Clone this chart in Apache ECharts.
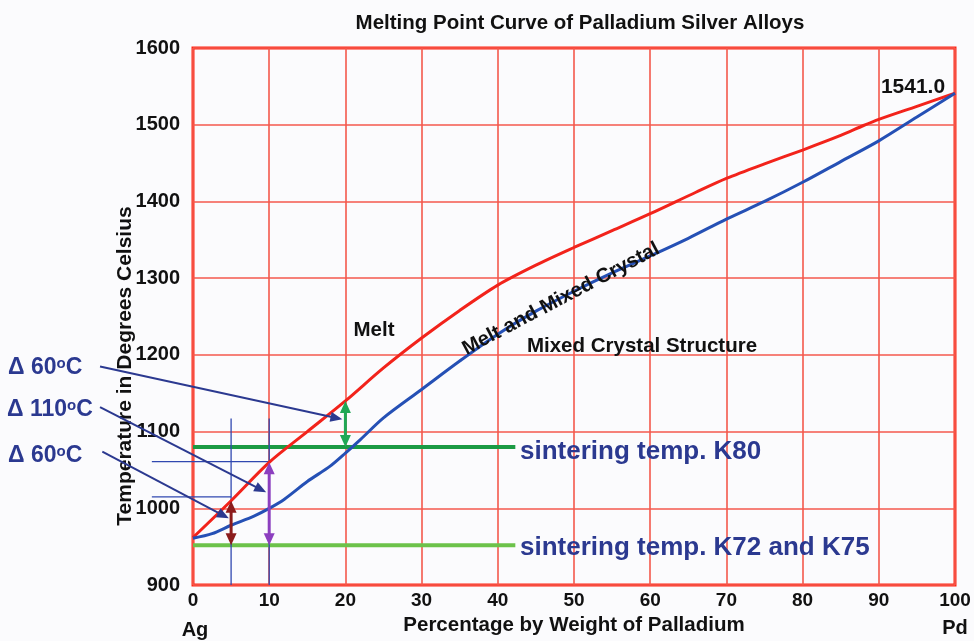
<!DOCTYPE html>
<html>
<head>
<meta charset="utf-8">
<script src="https://cdn.jsdelivr.net/npm/echarts@6/dist/echarts.min.js"></script>
<style>
html, body { margin: 0; padding: 0; background: #fbfbfd; }
#chart { width: 974px; height: 641px; }
</style>
</head>
<body>
<div id="chart"></div>
<script>
// tick labels
var xTicks = [0, 10, 20, 30, 40, 50, 60, 70, 80, 90, 100];
var yTicks = [900, 1000, 1100, 1200, 1300, 1400, 1500, 1600];

// liquidus (red) - % Pd vs temperature
var liqX = [0, 5, 10, 15, 20, 25, 30, 35, 40, 45, 50, 55, 60, 66, 70, 75, 80, 85, 88, 90, 95, 100];
var liqY = [962, 1010, 1060, 1100, 1140, 1183, 1222, 1258, 1291, 1317, 1340, 1362, 1384, 1412, 1430, 1449, 1467, 1486, 1499, 1507, 1524, 1541];

// solidus (blue)
var solX = [0, 2.5, 5, 8, 10, 12, 15, 18, 20, 22, 25, 30, 35, 40, 45, 50, 55, 60, 65, 70, 75, 80, 85, 90, 95, 100];
var solY = [961, 967, 978, 990, 1000, 1012, 1035, 1055, 1072, 1090, 1118, 1155, 1192, 1227, 1257, 1283, 1307, 1329, 1352, 1377, 1400, 1425, 1452, 1479, 1510, 1541];

// sintering temperatures and where their lines stop
var sinterK80 = 1080;
var sinterK72 = 952;
var sinterEnd = 42.3;

// thin guide lines [x1, y1, x2, y2]
var guideLines = [[5, 900, 5, 1117], [10, 900, 10, 1117], [-5.4, 1061, 10, 1061], [-5.4, 1015, 5, 1015]];
// delta double arrows [x1, y1, x2, y2]
var deltaArrows = [[5, 952, 5, 1010], [10, 952, 10, 1060], [20, 1080, 20, 1140]];
// pointer arrows from the delta labels
var pointerLines = [[-12.2, 1185, 19.6, 1116], [-12.2, 1132, 9.6, 1021], [-11.9, 1074, 4.7, 987]];

var deltaColors = ['#8b1c1c', '#8c3fbf', '#1fa855'];
var navy = '#2b3990';

function pairs(xs, ys) {
    var out = [];
    for (var i = 0; i < xs.length; i++) {
        out.push([xs[i], ys[i]]);
    }
    return out;
}

function head(tip, from, len, wid, color) {
    var dx = tip[0] - from[0], dy = tip[1] - from[1];
    var d = Math.sqrt(dx * dx + dy * dy);
    var ux = dx / d, uy = dy / d;
    var bx = tip[0] - ux * len, by = tip[1] - uy * len;
    return {
        type: 'polygon',
        shape: {points: [tip, [bx - uy * wid / 2, by + ux * wid / 2], [bx + uy * wid / 2, by - ux * wid / 2]]},
        style: {fill: color}
    };
}

// heads: 0 none, 1 end only, 2 both ends
function arrowRenderer(colors, width, heads, len, wid) {
    return function (params, api) {
        var color = colors[params.dataIndex % colors.length];
        var p1 = api.coord([api.value(0), api.value(1)]);
        var p2 = api.coord([api.value(2), api.value(3)]);
        var dx = p2[0] - p1[0], dy = p2[1] - p1[1];
        var d = Math.sqrt(dx * dx + dy * dy);
        var a = p1.slice(), b = p2.slice();
        if (heads >= 1) { b = [p2[0] - dx / d * len * 0.8, p2[1] - dy / d * len * 0.8]; }
        if (heads === 2) { a = [p1[0] + dx / d * len * 0.8, p1[1] + dy / d * len * 0.8]; }
        var children = [{
            type: 'line',
            shape: {x1: a[0], y1: a[1], x2: b[0], y2: b[1]},
            style: {stroke: color, lineWidth: width}
        }];
        if (heads >= 1) children.push(head(p2, p1, len, wid, color));
        if (heads === 2) children.push(head(p1, p2, len, wid, color));
        return {type: 'group', children: children};
    };
}

function deltaText(num) {
    return '{a|\u0394 ' + num + '}{s|o}{a|C}';
}
var deltaRich = {
    a: {fontSize: 23, fontWeight: 'bold', fill: navy, color: navy, fontFamily: 'Liberation Sans'},
    s: {fontSize: 15, fontWeight: 'bold', fill: navy, color: navy, fontFamily: 'Liberation Sans', verticalAlign: 'top', padding: [0, 0, 9, 0]}
};

var chart = echarts.init(document.getElementById('chart'));
var font = 'Liberation Sans';

var option = {
    backgroundColor: '#fbfbfd',
    animation: false,
    textStyle: {fontFamily: font},
    title: {
        text: 'Melting Point Curve of Palladium Silver Alloys',
        left: 575,
        top: 8,
        textAlign: 'center',
        textStyle: {fontSize: 20.5, fontWeight: 'bold', color: '#111', fontFamily: font}
    },
    grid: {
        left: 193, right: 19, top: 48, bottom: 51,
        show: true,
        borderColor: '#ff2414',
        borderWidth: 3
    },
    xAxis: {
        type: 'value',
        min: xTicks[0],
        max: xTicks[xTicks.length - 1],
        interval: 10,
        name: 'Percentage by Weight of Palladium',
        nameLocation: 'middle',
        nameGap: 29,
        nameTextStyle: {fontSize: 20.5, fontWeight: 'bold', color: '#111', fontFamily: font},
        axisLine: {show: false},
        axisTick: {show: false},
        axisLabel: {margin: 6, fontSize: 19, fontWeight: 'bold', color: '#111', fontFamily: font},
        splitLine: {lineStyle: {color: '#f4594c', width: 1.6}}
    },
    yAxis: {
        type: 'value',
        min: yTicks[0],
        max: yTicks[yTicks.length - 1],
        interval: 100,
        axisLine: {show: false},
        axisTick: {show: false},
        axisLabel: {
            margin: 13, fontSize: 20, fontWeight: 'bold', color: '#111', fontFamily: font,
            formatter: function (v) { return String(v); }
        },
        splitLine: {lineStyle: {color: '#f4594c', width: 1.6}}
    },
    series: [
        {
            name: 'K80', type: 'line', data: [[0, sinterK80], [sinterEnd, sinterK80]],
            symbol: 'none', lineStyle: {color: '#1b9a44', width: 4}, z: 3
        },
        {
            name: 'K72/K75', type: 'line', data: [[0, sinterK72], [sinterEnd, sinterK72]],
            symbol: 'none', lineStyle: {color: '#6cc24a', width: 4}, z: 3
        },
        {
            name: 'guides', type: 'custom', data: guideLines, clip: false, z: 4,
            renderItem: arrowRenderer(['#3048b0'], 1.3, 0, 0, 0)
        },
        {
            name: 'Liquidus', type: 'line', data: pairs(liqX, liqY), smooth: 0.3,
            symbol: 'none', lineStyle: {color: '#f2231b', width: 3}, z: 5
        },
        {
            name: 'Solidus', type: 'line', data: pairs(solX, solY), smooth: 0.3,
            symbol: 'none', lineStyle: {color: '#2550b5', width: 3}, z: 5
        },
        {
            name: 'deltas', type: 'custom', data: deltaArrows, clip: false, z: 6,
            renderItem: arrowRenderer(deltaColors, 3, 2, 12, 11)
        },
        {
            name: 'pointers', type: 'custom', data: pointerLines, clip: false, z: 6,
            renderItem: arrowRenderer([navy], 2, 1, 12, 10)
        }
    ],
    graphic: [
        {type: 'text', x: 125, y: 366, rotation: Math.PI / 2, style: {
            text: 'Temperature in Degrees Celsius', fontSize: 21, fontWeight: 'bold', fill: '#111',
            fontFamily: font, align: 'center', verticalAlign: 'middle'}},
        {type: 'text', x: 195, y: 630, style: {text: 'Ag', fontSize: 20, fontWeight: 'bold', fill: '#111',
            fontFamily: font, align: 'center', verticalAlign: 'middle'}},
        {type: 'text', x: 955, y: 628, style: {text: 'Pd', fontSize: 20, fontWeight: 'bold', fill: '#111',
            fontFamily: font, align: 'center', verticalAlign: 'middle'}},
        {type: 'text', x: 913, y: 87, z: 10, style: {text: '1541.0', fontSize: 21, fontWeight: 'bold', fill: '#111',
            fontFamily: font, align: 'center', verticalAlign: 'middle'}},
        {type: 'text', x: 374, y: 330, z: 10, style: {text: 'Melt', fontSize: 20.5, fontWeight: 'bold', fill: '#111',
            fontFamily: font, align: 'center', verticalAlign: 'middle'}},
        {type: 'text', x: 642, y: 346, z: 10, style: {text: 'Mixed Crystal Structure', fontSize: 20.5, fontWeight: 'bold', fill: '#111',
            fontFamily: font, align: 'center', verticalAlign: 'middle'}},
        {type: 'text', x: 561, y: 299, rotation: 0.485, z: 10, style: {text: 'Melt and Mixed Crystal', fontSize: 20.3, fontWeight: 'bold', fill: '#111',
            fontFamily: font, align: 'center', verticalAlign: 'middle'}},
        {type: 'text', x: 520, y: 452, z: 10, style: {text: 'sintering temp. K80', fontSize: 26, fontWeight: 'bold', fill: navy,
            fontFamily: font, align: 'left', verticalAlign: 'middle'}},
        {type: 'text', x: 520, y: 548, z: 10, style: {text: 'sintering temp. K72 and K75', fontSize: 26, fontWeight: 'bold', fill: navy,
            fontFamily: font, align: 'left', verticalAlign: 'middle'}},
        {type: 'text', x: 8, y: 368, z: 10, style: {text: deltaText('60'), rich: deltaRich, align: 'left', verticalAlign: 'middle'}},
        {type: 'text', x: 7, y: 410, z: 10, style: {text: deltaText('110'), rich: deltaRich, align: 'left', verticalAlign: 'middle'}},
        {type: 'text', x: 8, y: 456, z: 10, style: {text: deltaText('60'), rich: deltaRich, align: 'left', verticalAlign: 'middle'}}
    ]
};
chart.setOption(option);
</script>
</body>
</html>
